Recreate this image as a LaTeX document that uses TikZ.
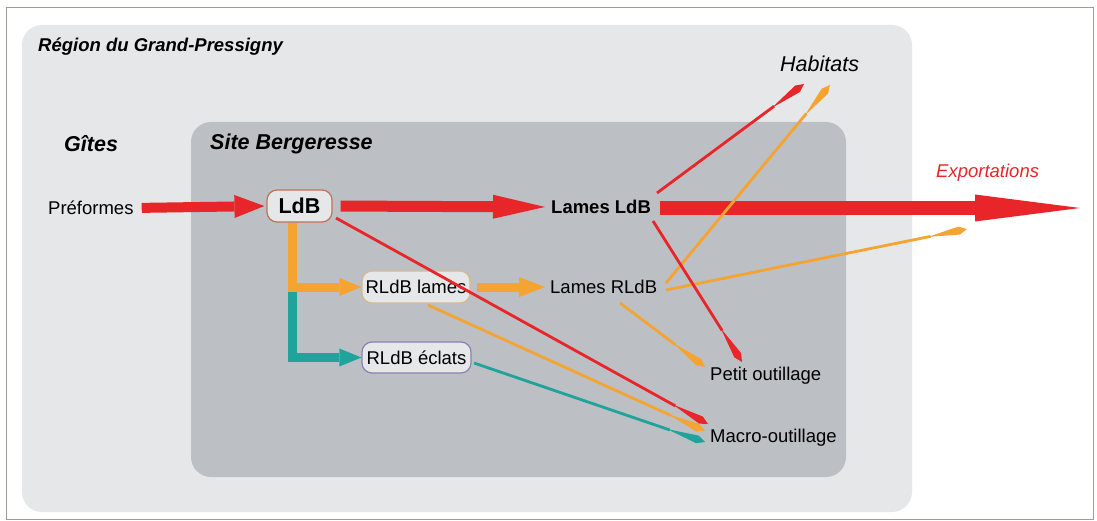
\documentclass[tikz,border=0pt]{standalone}
\usepackage{fontspec}
\setmainfont{Liberation Sans}
\usetikzlibrary{arrows.meta}
\definecolor{cred}{HTML}{E8262A}
\definecolor{corange}{HTML}{F5A331}
\definecolor{cteal}{HTML}{1FA39B}
\definecolor{outerbg}{HTML}{E6E7E9}
\definecolor{innerbg}{HTML}{BCC0C4}
\definecolor{framec}{HTML}{A39A96}
\definecolor{ldbborder}{HTML}{C0705A}
\definecolor{lamesborder}{HTML}{D8B890}
\definecolor{eclatsborder}{HTML}{8A80B8}
\begin{document}
\begin{tikzpicture}[x=1pt,y=-1pt,
  lbl/.style={inner sep=0pt, anchor=west, font=\fontsize{18.5}{20}\selectfont},
  bigtitle/.style={inner sep=0pt, anchor=west, font=\fontsize{21.5}{24}\selectfont\bfseries\itshape},
  boxnode/.style={draw, line width=1.2pt, fill=outerbg, rounded corners=10pt, inner sep=0pt, font=\fontsize{18.5}{20}\selectfont},
  thin/.style={line width=2.8pt, -{Kite[length=40pt,width=8pt,inset=32pt,line width=0pt]}},
]
\useasboundingbox (0,0) rectangle (1097,521);
\fill[white] (0,0) rectangle (1097,521);
\draw[framec, line width=1pt] (6,8) rectangle (1093,519);
\fill[outerbg, rounded corners=20pt] (22,25) rectangle (912,512);
\fill[innerbg, rounded corners=20pt] (191,122) rectangle (846,477);

% titles
\node[inner sep=0pt, anchor=west, font=\fontsize{18.5}{20}\selectfont\bfseries\itshape] (region) at (38,47) {Région du Grand-Pressigny};
\node[bigtitle] (gites) at (64,144) {Gîtes};
\node[bigtitle] (site) at (210,144) {Site Bergeresse};
\node[inner sep=0pt, anchor=west, font=\fontsize{21.5}{24}\selectfont\itshape] (habitats) at (780,64) {Habitats};
\node[lbl, font=\fontsize{18.5}{20}\selectfont\itshape, text=cred] (export) at (936,173) {Exportations};

% labels
\node[lbl] (pref) at (48,208) {Préformes};
\node[lbl, font=\fontsize{18.5}{20}\selectfont\bfseries] (lamesldb) at (551,207) {Lames LdB};
\node[lbl] (lamesrldb) at (550,287) {Lames RLdB};
\node[lbl] (petit) at (710,376) {Petit outillage};
\node[lbl] (macro) at (710,438) {Macro-outillage};

% boxes
\node[boxnode, draw=ldbborder, minimum width=65pt, minimum height=32pt, font=\fontsize{21.5}{24}\selectfont\bfseries] (ldb) at (299.5,206) {LdB};
\node[boxnode, draw=lamesborder, minimum width=108pt, minimum height=32pt] (rlames) at (416,287) {RLdB lames};
\node[boxnode, draw=eclatsborder, minimum width=109pt, minimum height=31pt] (reclats) at (416.5,357.5) {RLdB éclats};

% thick arrows
\draw[cred, line width=10pt, -{Triangle[length=30pt,width=23pt,line width=0pt]}, shorten <=8pt, shorten >=2pt] (pref.east) -- (ldb.west);
\draw[cred, line width=11pt, -{Triangle[length=52pt,width=24pt,line width=0pt]}, shorten <=8pt, shorten >=6pt] (ldb.east) -- (lamesldb.west);
\coordinate (exptip) at (1080,208);
\draw[cred, line width=14pt, -{Triangle[length=105pt,width=27pt,line width=0pt]}, shorten <=9pt] (lamesldb.east |- exptip) -- (exptip);

\coordinate (split) at (292.5,287);
\draw[cteal, line width=9pt, -{Triangle[length=22pt,width=18pt,line width=0pt]}] (292.5,287) |- (reclats.west);
\draw[corange, line width=9pt, -{Triangle[length=22pt,width=18pt,line width=0pt]}] (ldb.south -| split) |- (rlames.west);
\draw[corange, line width=9pt, -{Triangle[length=26pt,width=20pt,line width=0pt]}, shorten <=6pt, shorten >=5pt] (rlames.east) -- (lamesrldb.west);

% thin arrows
\coordinate (a1s) at (336,218); \coordinate (a1e) at (708,424);
\coordinate (a2s) at (428,305); \coordinate (a2e) at (705,431);
\coordinate (a3s) at (474,363); \coordinate (a3e) at (705,442);
\coordinate (a4s) at (657,193); \coordinate (a4e) at (804,84);
\coordinate (a5s) at (666,283); \coordinate (a5e) at (830,85);
\coordinate (a6s) at (653,221); \coordinate (a6e) at (742,362);
\coordinate (a7s) at (620,303); \coordinate (a7e) at (705,367);
\coordinate (a8s) at (666,290); \coordinate (a8e) at (967,229);

\draw[thin, cteal] (a3s) -- (a3e);
\draw[thin, corange] (a2s) -- (a2e);
\draw[thin, cred] (a1s) -- (a1e);
\draw[thin, corange] (a5s) -- (a5e);
\draw[thin, corange] (a8s) -- (a8e);
\draw[thin, corange] (a7s) -- (a7e);
\draw[thin, cred] (a4s) -- (a4e);
\draw[thin, cred] (a6s) -- (a6e);
\end{tikzpicture}
\end{document}
